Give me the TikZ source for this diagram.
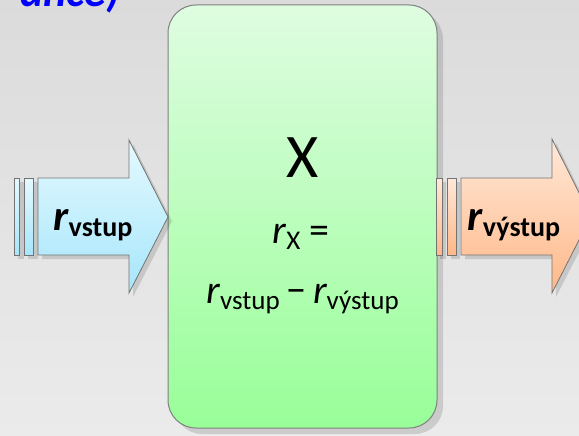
\documentclass[tikz,border=0pt]{standalone}
\usepackage{fontspec}
\setmainfont{Carlito}
\tikzset{
  bar/.style={draw=gray!90!black, line width=0.8pt},
  inarrow/.style={bar, top color=inTop, bottom color=inBot},
  outarrow/.style={bar, top color=outTop, bottom color=outBot},
  shadowfill/.style={fill=black, opacity=0.13},
  lbl/.style={inner sep=0pt, anchor=base},
}
\definecolor{inTop}{HTML}{E4F9FF}
\definecolor{inBot}{HTML}{A6E6FB}
\definecolor{outTop}{HTML}{FFE8D8}
\definecolor{outBot}{HTML}{FFB888}
\definecolor{boxTop}{HTML}{DFFDE1}
\definecolor{boxBot}{HTML}{98FE98}
\definecolor{bgTop}{HTML}{DBDBDB}
\definecolor{bgBot}{HTML}{EBEBEB}
\newcommand{\rsub}[2]{{\itshape r}\raisebox{-0.16em}{\fontsize{#1}{#1}\selectfont #2}}
\newcommand{\rsubb}[2]{{\bfseries\itshape r}\raisebox{-0.16em}{\fontsize{#1}{#1}\selectfont\bfseries #2}}
\begin{document}
\begin{tikzpicture}[x=1pt,y=-1pt]
\useasboundingbox (0,0) rectangle (579,436);
\clip (0,0) rectangle (579,436);
\shade[top color=bgTop, bottom color=bgBot] (0,0) rectangle (579,436);
% title fragment
\node[inner sep=0pt, anchor=base east, text=blue, font=\fontsize{44}{44}\selectfont\bfseries\itshape] (title) at (120,7) {ance)};
% main box
\fill[shadowfill, rounded corners=28] (174,11) rectangle (443,434);
\shade[top color=boxTop, bottom color=boxBot, draw=gray, line width=1pt, rounded corners=28] (168,5) rectangle (437,428);
% left arrow
\fill[shadowfill] (18,182) rectangle (24,259);
\fill[shadowfill] (28,182) rectangle (38,259);
\fill[shadowfill] (42,182) -- (133,182) -- (133,144) -- (172,221) -- (133,297) -- (133,259) -- (42,259) -- cycle;
\shade[inarrow] (14,178) rectangle (19,255);
\shade[inarrow] (24,178) rectangle (33,255);
\shade[inarrow] (38,178) -- (129,178) -- (129,140) -- (168,217) -- (129,293) -- (129,255) -- (38,255) -- cycle;
% right arrow
\fill[shadowfill] (440,182) rectangle (446,259);
\fill[shadowfill] (451,182) rectangle (460,259);
\fill[shadowfill] (465,182) -- (556,182) -- (556,143) -- (595,221) -- (556,297) -- (556,259) -- (465,259) -- cycle;
\shade[outarrow] (436,178) rectangle (442,255);
\shade[outarrow] (447,178) rectangle (456,255);
\shade[outarrow] (461,178) -- (552,178) -- (552,139) -- (591,216.5) -- (552,293) -- (552,255) -- (461,255) -- cycle;
% texts
\node[lbl, font=\fontsize{43}{43}\selectfont] (in) at (93,230) {\rsubb{28}{vstup}};
\node[lbl, font=\fontsize{43}{43}\selectfont] (out) at (514,230) {\rsubb{28}{výstup}};
\node[lbl, font=\fontsize{62}{62}\selectfont] (X) at (302.5,177) {X};
\node[lbl, font=\fontsize{40}{40}\selectfont] (rx) at (301,243) {\rsub{27}{X} =};
\node[lbl, font=\fontsize{40}{40}\selectfont] (eq) at (302.5,303) {\rsub{27}{vstup}\,\symbol{"2212}\,\rsub{27}{výstup}};
\end{tikzpicture}
\end{document}
